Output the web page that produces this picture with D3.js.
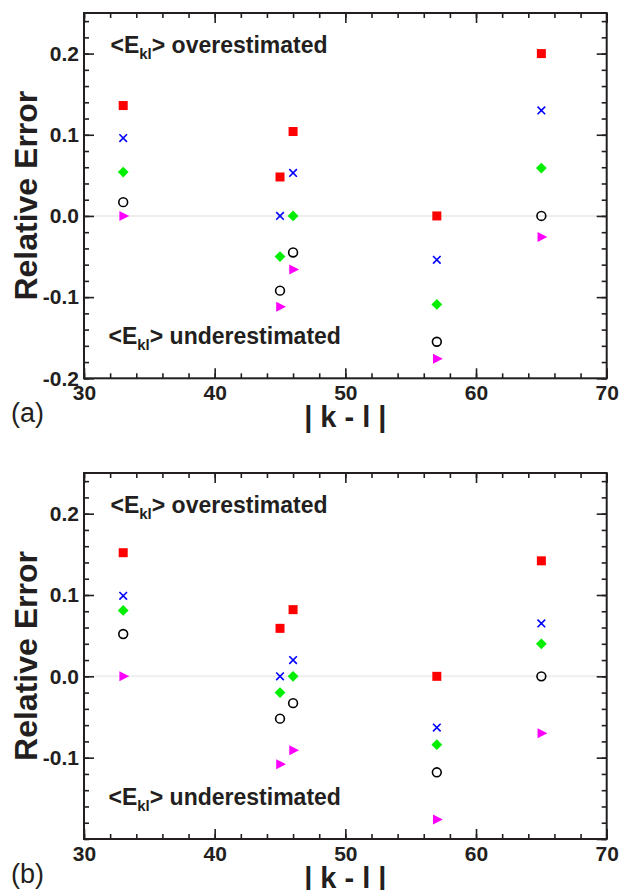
<!DOCTYPE html>
<html>
<head>
<meta charset="utf-8">
<script src="https://cdn.jsdelivr.net/npm/d3@7"></script>
<style>
  html, body { margin: 0; padding: 0; background: #fff; }
  svg { display: block; }
  text { font-family: "Liberation Sans", Arial, Helvetica, sans-serif; fill: #231f20; }
</style>
</head>
<body>
<svg id="chart" width="621" height="890"></svg>
<script>
// |k - l| separations shared by both panels
const separations = [33, 45, 46, 57, 65];

// Panel (a) relative errors, one array per series
const seriesA_square   = [0.136, 0.048, 0.104, 0.000, 0.200];
const seriesA_cross    = [0.096, 0.000, 0.053, -0.054, 0.130];
const seriesA_diamond  = [0.054, -0.050, 0.000, -0.109, 0.059];
const seriesA_circle   = [0.017, -0.092, -0.045, -0.155, 0.000];
const seriesA_triangle = [0.000, -0.112, -0.066, -0.176, -0.026];

// Panel (b) relative errors
const seriesB_square   = [0.152, 0.059, 0.082, 0.000, 0.142];
const seriesB_cross    = [0.099, 0.000, 0.020, -0.063, 0.065];
const seriesB_diamond  = [0.081, -0.020, 0.000, -0.084, 0.040];
const seriesB_circle   = [0.052, -0.052, -0.033, -0.118, 0.000];
const seriesB_triangle = [0.000, -0.108, -0.091, -0.176, -0.070];

// Axis ticks and labels
const xTicks = [30, 40, 50, 60, 70];
const xTickLabels = ["30", "40", "50", "60", "70"];
const yTicksA = [-0.2, -0.1, 0.0, 0.1, 0.2];
const yTickLabelsA = ["-0.2", "-0.1", "0.0", "0.1", "0.2"];
const yTicksB = [-0.1, 0.0, 0.1, 0.2];
const yTickLabelsB = ["-0.1", "0.0", "0.1", "0.2"];

const xDomain = [30, 70];
const yDomain = [-0.2, 0.25];

const svg = d3.select("#chart");

const markerStyles = {
  square:   { color: "#ff0000" },
  cross:    { color: "#0000ff" },
  diamond:  { color: "#00ee00" },
  circle:   { color: "#000000" },
  triangle: { color: "#ff00ff" }
};

function drawPanel(cfg) {
  const { top, bottom, left, right, series, yTicks, yTickLabels, tag } = cfg;
  const g = svg.append("g");

  const x = d3.scaleLinear().domain(xDomain).range([left, right]);
  const y = d3.scaleLinear().domain(yDomain).range([bottom, top]);

  const xMinor = d3.range(xDomain[0], xDomain[1] + 0.001, 2);
  const yMinor = d3.range(-0.2, 0.2401, 0.02).map(v => +v.toFixed(2));

  const noDomain = sel => sel.select(".domain").remove();
  const tickStyle = sel => sel.selectAll(".tick line").attr("stroke", "#231f20").attr("stroke-width", 1.6);

  // zero reference line
  g.append("line")
    .attr("x1", left).attr("x2", right)
    .attr("y1", y(0)).attr("y2", y(0))
    .attr("stroke", "#eeeeee").attr("stroke-width", 2);

  // minor ticks, all four sides
  g.append("g").attr("transform", `translate(0,${bottom})`)
    .call(d3.axisBottom(x).tickValues(xMinor).tickSize(-5).tickFormat(""))
    .call(noDomain).call(tickStyle);
  g.append("g").attr("transform", `translate(0,${top})`)
    .call(d3.axisTop(x).tickValues(xMinor).tickSize(-5).tickFormat(""))
    .call(noDomain).call(tickStyle);
  g.append("g").attr("transform", `translate(${left},0)`)
    .call(d3.axisLeft(y).tickValues(yMinor).tickSize(-5).tickFormat(""))
    .call(noDomain).call(tickStyle);
  g.append("g").attr("transform", `translate(${right},0)`)
    .call(d3.axisRight(y).tickValues(yMinor).tickSize(-5).tickFormat(""))
    .call(noDomain).call(tickStyle);

  // major ticks with labels
  const xAxis = g.append("g").attr("transform", `translate(0,${bottom})`)
    .call(d3.axisBottom(x).tickValues(xTicks).tickSize(-10).tickPadding(7)
      .tickFormat((d, i) => xTickLabels[i]))
    .call(noDomain).call(tickStyle);
  xAxis.selectAll("text").style("font-size", "21px").style("font-weight", "bold").attr("fill", "#231f20");

  g.append("g").attr("transform", `translate(0,${top})`)
    .call(d3.axisTop(x).tickValues(xTicks).tickSize(-10).tickFormat(""))
    .call(noDomain).call(tickStyle);

  const yAxis = g.append("g").attr("transform", `translate(${left},0)`)
    .call(d3.axisLeft(y).tickValues(yTicks).tickSize(-10).tickPadding(5)
      .tickFormat((d, i) => yTickLabels[i]))
    .call(noDomain).call(tickStyle);
  yAxis.selectAll("text").style("font-size", "21px").style("font-weight", "bold").attr("fill", "#231f20");

  g.append("g").attr("transform", `translate(${right},0)`)
    .call(d3.axisRight(y).tickValues([-0.2, -0.1, 0, 0.1, 0.2]).tickSize(-10).tickFormat(""))
    .call(noDomain).call(tickStyle);

  // frame
  g.append("rect")
    .attr("x", left).attr("y", top)
    .attr("width", right - left).attr("height", bottom - top)
    .attr("fill", "none").attr("stroke", "#231f20").attr("stroke-width", 2);

  // annotations
  function ekl(xPos, yPos, word) {
    const t = g.append("text")
      .attr("x", xPos).attr("y", yPos)
      .style("font-size", "23px").style("font-weight", "bold");
    t.append("tspan").text("<E");
    t.append("tspan").text("kl").style("font-size", "15px").attr("dy", 6.5);
    t.append("tspan").text("> " + word).attr("dy", -6.5);
    return t;
  }
  ekl(left + 26.5, top + 39.5, "overestimated");
  ekl(left + 24.5, bottom - 34.5, "underestimated");

  // data points
  const pts = (vals) => vals.map((v, i) => ({ k: separations[i], v }));

  g.selectAll(".sq").data(pts(series.square)).join("rect")
    .attr("x", d => x(d.k) - 4.5).attr("y", d => y(d.v) - 4.5)
    .attr("width", 9).attr("height", 9)
    .attr("fill", markerStyles.square.color);

  g.selectAll(".cr").data(pts(series.cross)).join("path")
    .attr("d", d => {
      const cx = x(d.k), cy = y(d.v), s = 3.8;
      return `M${cx - s},${cy - s}L${cx + s},${cy + s}M${cx - s},${cy + s}L${cx + s},${cy - s}`;
    })
    .attr("stroke", markerStyles.cross.color).attr("stroke-width", 1.6).attr("fill", "none");

  g.selectAll(".di").data(pts(series.diamond)).join("path")
    .attr("d", d => {
      const cx = x(d.k), cy = y(d.v), s = 5.4;
      return `M${cx},${cy - s}L${cx + s},${cy}L${cx},${cy + s}L${cx - s},${cy}Z`;
    })
    .attr("fill", markerStyles.diamond.color);

  g.selectAll(".ci").data(pts(series.circle)).join("circle")
    .attr("cx", d => x(d.k)).attr("cy", d => y(d.v)).attr("r", 4.4)
    .attr("fill", "none").attr("stroke", markerStyles.circle.color).attr("stroke-width", 1.6);

  g.selectAll(".tr").data(pts(series.triangle)).join("path")
    .attr("d", d => {
      const cx = x(d.k), cy = y(d.v);
      return `M${cx - 3.8},${cy - 5}L${cx + 6},${cy}L${cx - 3.8},${cy + 5}Z`;
    })
    .attr("fill", markerStyles.triangle.color);

  // axis titles
  g.append("text")
    .attr("transform", `translate(37,${(top + bottom) / 2}) rotate(-90)`)
    .attr("text-anchor", "middle")
    .style("font-size", "32px").style("font-weight", "bold")
    .text("Relative Error");

  g.append("text")
    .attr("x", (left + right) / 2).attr("y", bottom + 49)
    .attr("text-anchor", "middle")
    .style("font-size", "29px").style("font-weight", "bold")
    .text("| k - l |");

  g.append("text")
    .attr("x", 11).attr("y", bottom + 44)
    .style("font-size", "27px")
    .text(tag);
}

drawPanel({
  top: 13, bottom: 378.3, left: 84, right: 606.7,
  series: { square: seriesA_square, cross: seriesA_cross, diamond: seriesA_diamond,
            circle: seriesA_circle, triangle: seriesA_triangle },
  yTicks: yTicksA, yTickLabels: yTickLabelsA, tag: "(a)"
});

drawPanel({
  top: 473, bottom: 839, left: 84, right: 606.7,
  series: { square: seriesB_square, cross: seriesB_cross, diamond: seriesB_diamond,
            circle: seriesB_circle, triangle: seriesB_triangle },
  yTicks: yTicksB, yTickLabels: yTickLabelsB, tag: "(b)"
});
</script>
</body>
</html>
